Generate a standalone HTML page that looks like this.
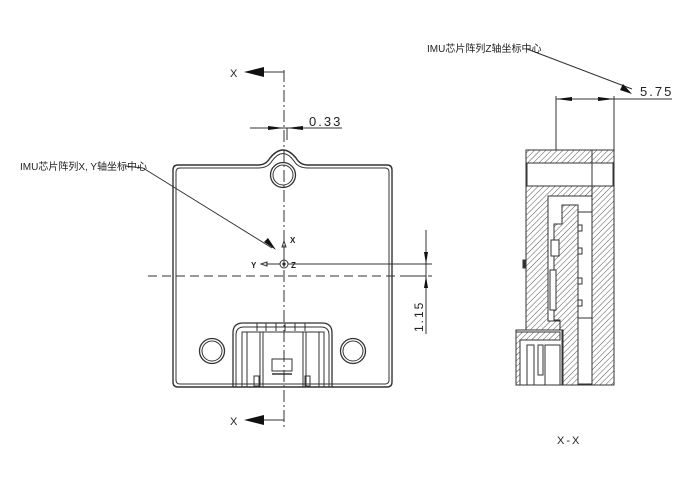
<!DOCTYPE html>
<html><head><meta charset="utf-8"><style>
html,body{margin:0;padding:0;background:#fff;width:690px;height:500px;overflow:hidden}
text{font-family:"Liberation Sans","Noto Sans CJK SC",sans-serif;fill:#222}
</style></head><body>
<svg width="690" height="500" viewBox="0 0 690 500" xmlns="http://www.w3.org/2000/svg">
<defs>
<pattern id="h" width="4" height="4" patternUnits="userSpaceOnUse" patternTransform="rotate(45)">
<rect width="4" height="4" fill="#fff"/><line x1="0" y1="0" x2="0" y2="4" stroke="#555" stroke-width="1"/>
</pattern>
</defs>
<g fill="none" stroke="#333" stroke-width="1">
<!-- front view board -->
<path d="M178 165 H258 Q266 165 270 158 Q283 142 296 158 Q300 165 308 165 H387 Q392 165 392 170 V382 Q392 387 387 387 H178 Q173 387 173 382 V170 Q173 165 178 165 Z" stroke-width="1.4"/>
<path d="M180 168 H258 Q268 168 272 161 Q283 146 294 161 Q298 168 308 168 H385 Q389 168 389 172 V380 Q389 384 385 384 H180 Q176 384 176 380 V172 Q176 168 180 168 Z"/>
<circle cx="283" cy="175" r="12.5" stroke-width="1.3"/><circle cx="283" cy="175" r="10"/>
<circle cx="212" cy="351" r="12.5" stroke-width="1.3"/><circle cx="212" cy="351" r="10"/>
<circle cx="353" cy="351" r="12.5" stroke-width="1.3"/><circle cx="353" cy="351" r="10"/>
<!-- connector -->
<path d="M233 387 V333 Q233 323 243 323 H322 Q332 323 332 333 V387" stroke-width="1.3"/>
<path d="M236 387 V335 Q236 327 244 327 H321 Q329 327 329 335 V387"/>
<rect x="242" y="332" width="82" height="55"/>
<line x1="247" y1="332" x2="247" y2="387"/><line x1="319" y1="332" x2="319" y2="387"/>
<rect x="260" y="332" width="46" height="55"/>
<line x1="263" y1="332" x2="263" y2="387"/><line x1="303" y1="332" x2="303" y2="387"/>
<path d="M257 323 v8 M266 323 v8 M276 323 v8 M285 323 v8 M295 323 v8 M305 323 v8"/>
<rect x="272" y="359" width="20" height="12"/><line x1="272" y1="374" x2="292" y2="374" stroke-width="1.5"/>
<rect x="254" y="376" width="5" height="10"/><rect x="305" y="376" width="5" height="10"/>
<!-- centerlines -->
<line x1="284" y1="70" x2="284" y2="430" stroke-dasharray="12 3 2 3"/>
<line x1="287" y1="128" x2="287" y2="140" />
<line x1="148" y1="276" x2="432" y2="276" stroke-dasharray="9 5"/>
<!-- origin -->
<circle cx="284" cy="264" r="4"/><circle cx="284" cy="264" r="1.2" fill="#333"/>
<line x1="288" y1="264" x2="432" y2="264"/>
<line x1="284" y1="260" x2="284" y2="246"/><path d="M282 247 L284 241 L286 247 Z"/>
<line x1="280" y1="264" x2="266" y2="264"/><path d="M267 262 L261 264 L267 266 Z"/>
<!-- 1.15 dim -->
<line x1="426" y1="230" x2="426" y2="334"/>
<line x1="404" y1="276" x2="426" y2="276"/>
<!-- 0.33 dim -->
<line x1="250" y1="128" x2="342" y2="128"/>
<line x1="284" y1="128" x2="284" y2="128"/>
<!-- section arrows -->
<line x1="284" y1="72" x2="262" y2="72"/>
<line x1="284" y1="420" x2="262" y2="420"/>
<!-- leader xy -->
<line x1="125" y1="166" x2="143" y2="168"/>
<line x1="143" y1="168" x2="272" y2="248"/>
<!-- leader z -->
<line x1="527" y1="49" x2="632" y2="89"/>
<line x1="556" y1="99" x2="672" y2="99"/>
<line x1="556" y1="96" x2="556" y2="260"/>
<line x1="614" y1="96" x2="614" y2="150"/>
</g>
<g fill="#111">
<path d="M268 126 L284 128 L268 130 Z"/>
<path d="M303 126 L287 128 L303 130 Z"/>
<path d="M264 67 L244 72 L264 77 Z"/>
<path d="M264 415 L244 420 L264 425 Z"/>
<path d="M424 252 L426 264 L428 252 Z"/>
<path d="M424 288 L426 276 L428 288 Z"/>
<path d="M264 242 L276 250 L268 238 Z"/>
<path d="M620 90 L632 94 L623 84 Z"/>
<path d="M572 97 L556 99 L572 101 Z"/>
<path d="M598 97 L614 99 L598 101 Z"/>
</g>
<!-- side view -->
<g stroke="#333" stroke-width="1">
<rect x="526" y="150" width="88" height="235" fill="url(#h)"/>
<rect x="527" y="163" width="86" height="23" fill="#fff"/>
<line x1="592" y1="150" x2="592" y2="385" fill="none"/>
<rect x="548" y="196" width="44" height="125" fill="#fff"/>
<rect x="578" y="212" width="14" height="107" fill="#fff"/>
<rect x="578" y="318" width="14" height="66" fill="#fff"/>
<path d="M562 205 H578 V385 H563 V330 H560 V320 H554 V224 H562 Z" fill="url(#h)"/>
<rect x="551" y="240" width="8" height="16" fill="#fff"/>
<rect x="550" y="270" width="6" height="40" fill="#fff"/>
<path d="M516 330 H562 V385 H516 Z" fill="#fff"/>
<path d="M516 332 H560 V340 H520 V385 H516 Z" fill="url(#h)"/>
<rect x="527" y="345" width="7" height="40" fill="#fff"/>
<rect x="538" y="345" width="5" height="30" fill="#fff"/>
<rect x="545" y="345" width="15" height="40" fill="#fff"/>
<rect x="578" y="225" width="4" height="6" fill="#fff"/><rect x="578" y="248" width="4" height="6" fill="#fff"/>
<rect x="578" y="278" width="4" height="6" fill="#fff"/><rect x="578" y="300" width="4" height="6" fill="#fff"/>
<rect x="523" y="260" width="2" height="8" fill="#333"/>
</g>
<g font-size="11">
<text x="230" y="77">X</text>
<text x="230" y="425">X</text>
<text x="309" y="126" font-size="13" letter-spacing="2">0.33</text>
<text x="640" y="96" font-size="13" letter-spacing="2">5.75</text>
<text x="20" y="170" font-size="10">IMU芯片阵列X, Y轴坐标中心</text>
<text x="427" y="52" font-size="10">IMU芯片阵列Z轴坐标中心</text>
<text x="557" y="444" letter-spacing="2">X-X</text>
<text x="251" y="268" font-size="8" font-weight="bold">Y</text>
<text x="290" y="243" font-size="8" font-weight="bold">X</text>
<text x="291" y="268" font-size="8" font-weight="bold">Z</text>
<text transform="translate(423,332) rotate(-90)" font-size="12" letter-spacing="2">1.15</text>
</g>
</svg>
</body></html>
